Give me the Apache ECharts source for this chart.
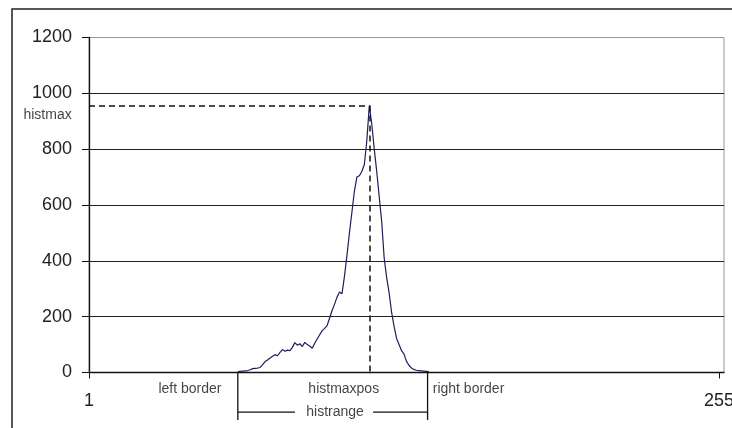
<!DOCTYPE html>
<html>
<head>
<meta charset="utf-8">
<script src="https://cdn.jsdelivr.net/npm/echarts@6/dist/echarts.min.js"></script>
<style>
html,body{margin:0;padding:0;background:#fff;}
#chart{width:732px;height:428px;}
</style>
</head>
<body>
<div id="chart"></div>
<script>
// ---- data ----
const bins = [61,62,63,64,65,66,67,68,69,70,71,72,73,74,75,76,77,78,79,80,
  81,82,83,84,85,86,87,88,89,90,91,92,93,94,95,96,97,98,99,100,
  101,102,103,104,105,106,107,108,109,110,111,112,113,114,115,116,117,118,119,120,
  121,122,123,124,125,126,127,128,129,130,131,132,133,134,135,136,137,138];
const counts = [3,4,5,6,7,10,14,15,16,18,28,39,45,52,58,64,60,72,82,76,
  80,78,90,107,98,103,93,108,100,95,87,105,120,135,150,158,168,195,222,245,
  270,288,282,345,420,500,575,650,700,705,720,745,830,956,890,800,720,630,540,410,
  340,285,215,165,122,100,78,66,40,26,16,11,8,7,6,5,4,3];
const xTickLabels = [1, 255];
const yTicks = [0, 200, 400, 600, 800, 1000, 1200];
const histMax = 956;
const histMaxPos = 114;
const leftBorder = 61;
const rightBorder = 137.5;
const annotationNames = ['histmax', 'left border', 'histmaxpos', 'right border', 'histrange'];

// ---- chart ----
const chart = echarts.init(document.getElementById('chart'), null, {renderer: 'canvas'});
const FONT = '"Liberation Sans", Arial, sans-serif';
const lineData = bins.map((b, i) => [b, counts[i]]);

function seg(a, b) {
  return {
    type: 'line', data: [a, b], symbol: 'none', clip: false, silent: true,
    lineStyle: {color: '#111', width: 1.3}, z: 5, animation: false
  };
}
const labelY = -59, rangeY = -142, bracketBottom = -170;

const option = {
  animation: false,
  backgroundColor: '#fff',
  graphic: [{
    type: 'rect', shape: {x: 12, y: 9, width: 900, height: 600},
    style: {fill: 'none', stroke: '#222', lineWidth: 1.5}, silent: true, z: -10
  }],
  grid: {left: 89, right: 8, top: 37.5, bottom: 55.5, show: true,
    outerBoundsMode: 'none', containLabel: false,
    borderColor: '#999', borderWidth: 1, backgroundColor: 'transparent'},
  xAxis: {
    type: 'value', min: 1, max: 257,
    axisLine: {show: true, lineStyle: {color: '#111', width: 1.3}},
    axisTick: {show: true, customValues: xTickLabels, length: 6, inside: false, lineStyle: {color: '#111'}},
    axisLabel: {show: true, customValues: xTickLabels, margin: 20, fontSize: 18, fontFamily: FONT, color: '#222',
      formatter: v => String(v)},
    splitLine: {show: false}
  },
  yAxis: {
    type: 'value', min: yTicks[0], max: yTicks[yTicks.length - 1], interval: yTicks[1] - yTicks[0],
    axisLine: {show: true, lineStyle: {color: '#111', width: 1.3}},
    axisTick: {show: true, length: 7, lineStyle: {color: '#111'}},
    axisLabel: {margin: 17, fontSize: 18, fontFamily: FONT, color: '#222', formatter: v => String(v)},
    splitLine: {show: true, lineStyle: {color: ['#222','#222','#222','#222','#222','#222','#999'], width: 1.2}}
  },
  series: [
    {
      type: 'line', data: lineData, symbol: 'none', z: 4,
      lineStyle: {color: '#1e1e5c', width: 1.2},
      markLine: {
        silent: true, symbol: 'none', label: {show: false},
        lineStyle: {color: '#111', type: [6, 4], width: 1.5},
        data: [
          [{coord: [1, histMax]}, {coord: [histMaxPos, histMax]}],
          [{coord: [histMaxPos, histMax]}, {coord: [histMaxPos, 0]}]
        ]
      }
    },
    seg([leftBorder, 0], [leftBorder, bracketBottom]),
    seg([rightBorder, 0], [rightBorder, bracketBottom]),
    seg([leftBorder, rangeY], [84, rangeY]),
    seg([115.5, rangeY], [rightBorder, rangeY]),
    {
      type: 'scatter', clip: false, silent: true, symbolSize: 0, z: 6,
      label: {show: true, position: 'inside', formatter: p => p.name,
        fontSize: 14, fontFamily: FONT, color: '#111'},
      data: [
        {name: annotationNames[0], value: [-15.7, 923]},
        {name: annotationNames[1], value: [41.7, labelY]},
        {name: annotationNames[2], value: [103.7, labelY]},
        {name: annotationNames[3], value: [154, labelY]},
        {name: annotationNames[4], value: [100.2, rangeY]}
      ]
    }
  ]
};
chart.setOption(option);
</script>
</body>
</html>
